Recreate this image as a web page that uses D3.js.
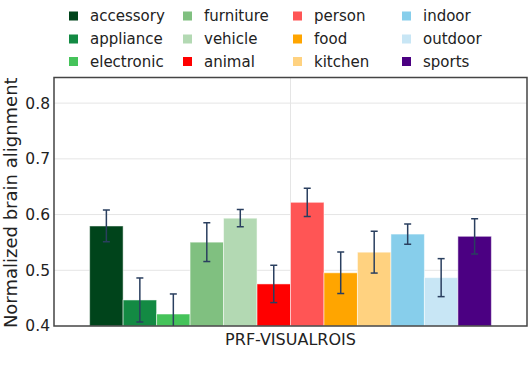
<!DOCTYPE html>
<html><head><meta charset="utf-8">
<script src="https://cdn.jsdelivr.net/npm/d3@7"></script>
<style>body{margin:0;background:#fff}svg{display:block}text{font-family:"DejaVu Sans",Verdana,sans-serif}</style>
</head><body><svg id="c" width="529" height="374"></svg>
<script>
const groupLabels = ["PRF-VISUALROIS"];
const categories = ["accessory","appliance","electronic","furniture","vehicle","animal","person","food","kitchen","indoor","outdoor","sports"];
const values = [0.5795,0.4467,0.4215,0.5505,0.5935,0.4755,0.622,0.4955,0.5325,0.5650,0.4868,0.5610];
const errors = [0.0285,0.0395,0.036,0.0348,0.0155,0.0335,0.0253,0.0372,0.0375,0.0182,0.0341,0.0317];
const colors = ["#00441b","#138a43","#45c35a","#80c080","#b3d9b3","#ff0000","#ff5555","#ffa500","#ffd280","#87ceeb","#c8e6f5","#4b0082"];
const yTicks = [0.4,0.5,0.6,0.7,0.8];
const yTitle = "Normalized brain alignment";

const svg = d3.select("#c");
const m = {l:54, r:527, t:77.5, b:326};
const y = d3.scaleLinear().domain([0.4, 0.846]).range([m.b, m.t]);
const x0 = d3.scaleBand().domain(groupLabels).range([m.l, m.r]).paddingInner(0).paddingOuter(0.0887);
const x1 = d3.scaleBand().domain(categories).range([0, x0.bandwidth()]).padding(0);

// grid
const g = svg.append("g");
g.selectAll("line.hg").data(yTicks.slice(1)).join("line")
  .attr("x1", m.l).attr("x2", m.r).attr("y1", d=>y(d)).attr("y2", d=>y(d))
  .attr("stroke", "#e5e5e5").attr("stroke-width", 1);
g.selectAll("line.vg").data(groupLabels).join("line")
  .attr("x1", d=>x0(d)+x0.bandwidth()/2).attr("x2", d=>x0(d)+x0.bandwidth()/2)
  .attr("y1", m.t).attr("y2", m.b).attr("stroke", "#e5e5e5").attr("stroke-width", 1);

// bars
const data = categories.map((c,i)=>({c, v:values[i], e:errors[i], col:colors[i]}));
const bg = svg.append("g").attr("transform", `translate(${x0(groupLabels[0])},0)`);
bg.selectAll("rect").data(data).join("rect")
  .attr("x", d=>x1(d.c)).attr("width", x1.bandwidth())
  .attr("y", d=>y(d.v)).attr("height", d=>m.b - y(d.v))
  .attr("fill", d=>d.col).attr("stroke", "rgba(255,255,255,0.5)").attr("stroke-width", 1);

// error bars
svg.append("clipPath").attr("id","pc").append("rect")
  .attr("x", m.l).attr("y", m.t).attr("width", m.r-m.l).attr("height", m.b-m.t);
const eb = svg.append("g").attr("clip-path","url(#pc)").append("g").attr("transform", `translate(${x0(groupLabels[0])},0)`);
data.forEach(d=>{
  const cx = x1(d.c) + x1.bandwidth()/2;
  eb.append("line").attr("x1",cx).attr("x2",cx).attr("y1",y(d.v+d.e)).attr("y2",y(d.v-d.e))
    .attr("stroke","#2a3f5f").attr("stroke-width",1.5);
  [d.v+d.e, d.v-d.e].forEach(v=>{
    eb.append("line").attr("x1",cx-3.5).attr("x2",cx+3.5).attr("y1",y(v)).attr("y2",y(v))
      .attr("stroke","#2a3f5f").attr("stroke-width",1.5);
  });
});

// frame
svg.append("rect").attr("x", m.l).attr("y", m.t).attr("width", m.r-m.l).attr("height", m.b-m.t)
  .attr("fill","none").attr("stroke","#444").attr("stroke-width",1.5);

// y axis
const ya = svg.append("g").attr("transform", `translate(${m.l},0)`)
  .call(d3.axisLeft(y).tickValues(yTicks).tickFormat(d3.format(".1f")).tickSize(0).tickPadding(4));
ya.select(".domain").remove();
ya.selectAll("text").attr("font-size", 15.5).attr("fill", "#222").attr("font-family", "DejaVu Sans");

svg.append("text").attr("transform", `translate(17,${(m.t+m.b)/2+1}) rotate(-90)`)
  .attr("text-anchor","middle").attr("font-size",18).attr("fill","#222").text(yTitle);

// x axis
const xa = svg.append("g").attr("transform", `translate(0,${m.b})`)
  .call(d3.axisBottom(x0).tickSize(0).tickPadding(8));
xa.select(".domain").remove();
xa.selectAll("text").attr("font-size", 16).attr("fill", "#222").attr("font-family", "DejaVu Sans");

// legend
const colX = [69, 183, 293, 402];
const rowY = [16, 39, 61.5];
const lg = svg.append("g");
categories.forEach((c,i)=>{
  const col = Math.floor(i/3), row = i%3;
  const gg = lg.append("g").attr("transform", `translate(${colX[col]},${rowY[row]})`);
  gg.append("rect").attr("x",0).attr("y",-4.5).attr("width",9).attr("height",9).attr("fill",colors[i]);
  gg.append("text").attr("x",21).attr("y",0).attr("dy","0.35em").attr("font-size",15).attr("fill","#222").text(c);
});
</script></body></html>
